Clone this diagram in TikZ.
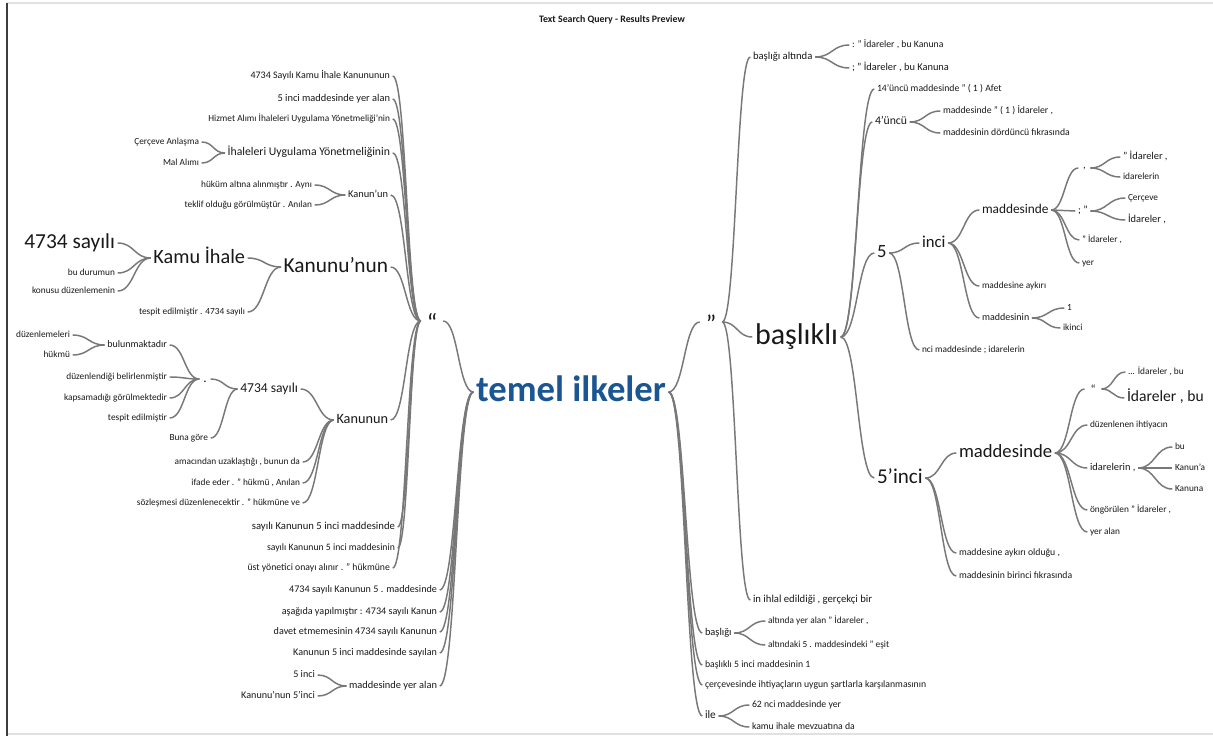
\documentclass[tikz,border=0pt]{standalone}
\usepackage{fontspec}
\setmainfont{Carlito}
\usetikzlibrary{calc}
\definecolor{ink}{RGB}{25,25,25}
\definecolor{edge}{RGB}{120,120,120}
\definecolor{rootblue}{RGB}{28,86,146}
\definecolor{frame}{RGB}{60,60,60}
\definecolor{rule}{RGB}{225,225,225}

\tikzset{
  word/.style={inner sep=0pt, outer sep=0pt, text=ink,
    text height=\dimexpr #1pt*72/100\relax, text depth=\dimexpr #1pt*22/100\relax,
    font=\fontsize{#1}{#1}\selectfont},
  L/.style={word=#1, anchor=east},
  R/.style={word=#1, anchor=west},
  mark/.style={inner sep=0pt, inner xsep=2.5pt, outer sep=0pt, text=ink, anchor=center,
    text height=\dimexpr #1pt*80/100\relax, text depth=0pt,
    font=\fontsize{#1}{#1}\selectfont},
  conn/.style={draw=edge, line width=1.1pt, shorten <=2pt, shorten >=2pt},
}
% sigmoid connector from the east side of #1 to the west side of #2
\newcommand\wlink[2]{\draw[conn] let \p1=(#1.east), \p2=(#2.west) in
  (\p1) .. controls ({(\x1+\x2)/2},\y1) and ({(\x1+\x2)/2},\y2) .. (\p2);}

\begin{document}
\begin{tikzpicture}[x=0.75pt, y=-0.75pt]
\useasboundingbox (0,0) rectangle (1213,736);
\fill[white] (0,0) rectangle (1213,736);
\draw[rule, line width=0.8pt] (7,3) -- (1213,3);
\draw[rule, line width=0.8pt] (7,734) -- (1213,734);
\draw[frame, line width=1.2pt] (7,3) -- (7,736);

\node[font=\fontsize{7.4}{7.4}\selectfont\bfseries, text=ink] (title) at (612,20) {Text Search Query - Results Preview};

% central word
\node[word=27.5, font=\fontsize{27.5}{27.5}\selectfont\bfseries, text=rootblue, anchor=center] (root) at (571,392) {temel ilkeler};

% ---------- left branch ----------
\node[mark=18.75] (lq) at (432,321) {“};

\node[L=7.5] (a1) at (390,76) {4734 Sayılı Kamu İhale Kanununun};
\node[L=7.8] (a2) at (390,99) {5 inci maddesinde yer alan};
\node[L=7] (a3) at (390,119) {Hizmet Alımı İhaleleri Uygulama Yönetmeliği'nin};
\node[L=8.8] (a4) at (390,153) {İhaleleri Uygulama Yönetmeliğinin};
\node[L=7] (a4a) at (199,142) {Çerçeve Anlaşma};
\node[L=7] (a4b) at (199,163) {Mal Alımı};
\node[L=7.8] (a5) at (388,195) {Kanun'un};
\node[L=7] (a5a) at (312,185) {hüküm altına alınmıştır . Aynı};
\node[L=7] (a5b) at (312,205) {teklif olduğu görülmüştür . Anılan};
\node[L=16] (a6) at (388,267) {Kanunu'nun};
\node[L=15.2] (a6a) at (245,258) {Kamu İhale};
\node[L=16] (a6a1) at (115,243) {4734 sayılı};
\node[L=7] (a6a2) at (115,273) {bu durumun};
\node[L=7] (a6a3) at (115,291) {konusu düzenlemenin};
\node[L=7] (a6b) at (245,312) {tespit edilmiştir . 4734 sayılı};
\node[L=10.7] (a7) at (388,420) {Kanunun};
\node[L=10.2] (a7a) at (298,389) {4734 sayılı};
\node[word=10, inner xsep=1pt, anchor=center] (a7a1) at (205,379) {.};
\node[L=7.5] (b1) at (167,345) {bulunmaktadır};
\node[L=7] (b1a) at (70,335) {düzenlemeleri};
\node[L=7] (b1b) at (70,355) {hükmü};
\node[L=7] (b2) at (167,377) {düzenlendiği belirlenmiştir};
\node[L=7] (b3) at (167,398) {kapsamadığı görülmektedir};
\node[L=7] (b4) at (167,418) {tespit edilmiştir};
\node[L=7] (a7a2) at (208,438) {Buna göre};
\node[L=7] (a7b) at (300,462) {amacından uzaklaştığı , bunun da};
\node[L=7] (a7c) at (300,483) {ifade eder . " hükmü , Anılan};
\node[L=7] (a7d) at (300,503) {sözleşmesi düzenlenecektir . " hükmüne ve};
\node[L=8] (a8) at (395,527) {sayılı Kanunun 5 inci maddesinde};
\node[L=7.3] (a9) at (395,548) {sayılı Kanunun 5 inci maddesinin};
\node[L=7.3] (a10) at (390,568) {üst yönetici onayı alınır . " hükmüne};

\node[L=7.6] (c1) at (437,590) {4734 sayılı Kanunun 5 . maddesinde};
\node[L=7.6] (c2) at (437,612) {aşağıda yapılmıştır : 4734 sayılı Kanun};
\node[L=7.6] (c3) at (437,632) {davet etmemesinin 4734 sayılı Kanunun};
\node[L=7.6] (c4) at (437,653) {Kanunun 5 inci maddesinde sayılan};
\node[L=7.8] (c5) at (437,686) {maddesinde yer alan};
\node[L=7.6] (c5a) at (315,675) {5 inci};
\node[L=7.6] (c5b) at (315,696) {Kanunu'nun 5'inci};

% ---------- right branch ----------
\node[mark=18.75] (rq) at (711,322) {”};

\node[R=8] (r1) at (753,57) {başlığı altında};
\node[R=7.3] (r1a) at (852,45) {: " İdareler , bu Kanuna};
\node[R=7.8] (r1b) at (852,68) {; " İdareler , bu Kanuna};
\node[R=22.5] (r2) at (755,337) {başlıklı};
\node[R=7.3] (r2a) at (877,89) {14'üncü maddesinde " ( 1 ) Afet};
\node[R=8.8] (r2b) at (875,122) {4'üncü};
\node[R=7.3] (r2b1) at (943,111) {maddesinde " ( 1 ) İdareler ,};
\node[R=7.3] (r2b2) at (943,133) {maddesinin dördüncü fıkrasında};
\node[R=14] (r2c) at (877,253) {5};
\node[R=12.5] (r2c1) at (922,243) {inci};
\node[R=10] (d1) at (982,210) {maddesinde};
\node[word=8, inner xsep=1.5pt, anchor=west, text height=1.2pt, text depth=1.2pt] (d1a) at (1081,168) {,};
\node[R=7.8] (d1a1) at (1123,157) {" İdareler ,};
\node[R=7] (d1a2) at (1123,177) {idarelerin};
\node[R=8] (d1b) at (1078,211) {; "};
\node[R=7] (d1b1) at (1128,198) {Çerçeve};
\node[R=7.8] (d1b2) at (1128,220) {İdareler ,};
\node[R=7] (d1c) at (1082,240) {" İdareler ,};
\node[R=7] (d1d) at (1082,263) {yer};
\node[R=7] (d2) at (982,286) {maddesine aykırı};
\node[R=7.5] (d3) at (982,318) {maddesinin};
\node[R=7] (d3a) at (1067,308) {1};
\node[R=7] (d3b) at (1063,328) {ikinci};
\node[R=7] (r2c2) at (922,350) {nci maddesinde ; idarelerin};
\node[R=15.8] (r2d) at (877,478) {5'inci};
\node[R=14] (e1) at (959,453) {maddesinde};
\node[mark=9] (e1a) at (1093,389) {“};
\node[R=7] (e1a1) at (1128,372) {... İdareler , bu};
\node[R=11.7] (e1a2) at (1127,398) {İdareler , bu};
\node[R=7] (e1b) at (1090,425) {düzenlenen ihtiyacın};
\node[R=7.8] (e1c) at (1090,468) {idarelerin ,};
\node[R=7] (e1c1) at (1175,447) {bu};
\node[R=7] (e1c2) at (1175,468) {Kanun'a};
\node[R=7] (e1c3) at (1175,489) {Kanuna};
\node[R=7] (e1d) at (1090,510) {öngörülen " İdareler ,};
\node[R=7] (e1e) at (1090,532) {yer alan};
\node[R=7.3] (e2) at (959,553) {maddesine aykırı olduğu ,};
\node[R=7.3] (e3) at (959,576) {maddesinin birinci fıkrasında};
\node[R=8] (r3) at (753,600) {in ihlal edildiği , gerçekçi bir};

\node[R=7.8] (s1) at (705,633) {başlığı};
\node[R=7] (s1a) at (768,621) {altında yer alan " İdareler ,};
\node[R=7] (s1b) at (768,645) {altındaki 5 . maddesindeki " eşit};
\node[R=7.3] (s2) at (705,665) {başlıklı 5 inci maddesinin 1};
\node[R=7.3] (s3) at (705,685) {çerçevesinde ihtiyaçların uygun şartlarla karşılanmasının};
\node[R=8.5] (s4) at (705,716) {ile};
\node[R=7.3] (s4a) at (752,705) {62 nci maddesinde yer};
\node[R=7.3] (s4b) at (752,727) {kamu ihale mevzuatına da};

% ---------- connectors ----------
\foreach \u/\v in {a1/lq, a2/lq, a3/lq, a4/lq, a5/lq, a6/lq, a7/lq, a8/lq, a9/lq, a10/lq,
  a4a/a4, a4b/a4, a5a/a5, a5b/a5, a6a/a6, a6b/a6, a6a1/a6a, a6a2/a6a, a6a3/a6a,
  a7a/a7, a7b/a7, a7c/a7, a7d/a7, a7a1/a7a, a7a2/a7a,
  b1/a7a1, b2/a7a1, b3/a7a1, b4/a7a1, b1a/b1, b1b/b1,
  lq/root, c1/root, c2/root, c3/root, c4/root, c5/root, c5a/c5, c5b/c5}
  {\wlink{\u}{\v}}

\foreach \u/\v in {root/rq, root/s1, root/s2, root/s3, root/s4,
  rq/r1, rq/r2, rq/r3, r1/r1a, r1/r1b,
  r2/r2a, r2/r2b, r2/r2c, r2/r2d, r2b/r2b1, r2b/r2b2,
  r2c/r2c1, r2c/r2c2, r2c1/d1, r2c1/d2, r2c1/d3,
  d1/d1a, d1/d1b, d1/d1c, d1/d1d, d1a/d1a1, d1a/d1a2, d1b/d1b1, d1b/d1b2,
  d3/d3a, d3/d3b,
  r2d/e1, r2d/e2, r2d/e3, e1/e1a, e1/e1b, e1/e1c, e1/e1d, e1/e1e,
  e1a/e1a1, e1a/e1a2, e1c/e1c1, e1c/e1c2, e1c/e1c3,
  s1/s1a, s1/s1b, s4/s4a, s4/s4b}
  {\wlink{\u}{\v}}
\end{tikzpicture}
\end{document}
